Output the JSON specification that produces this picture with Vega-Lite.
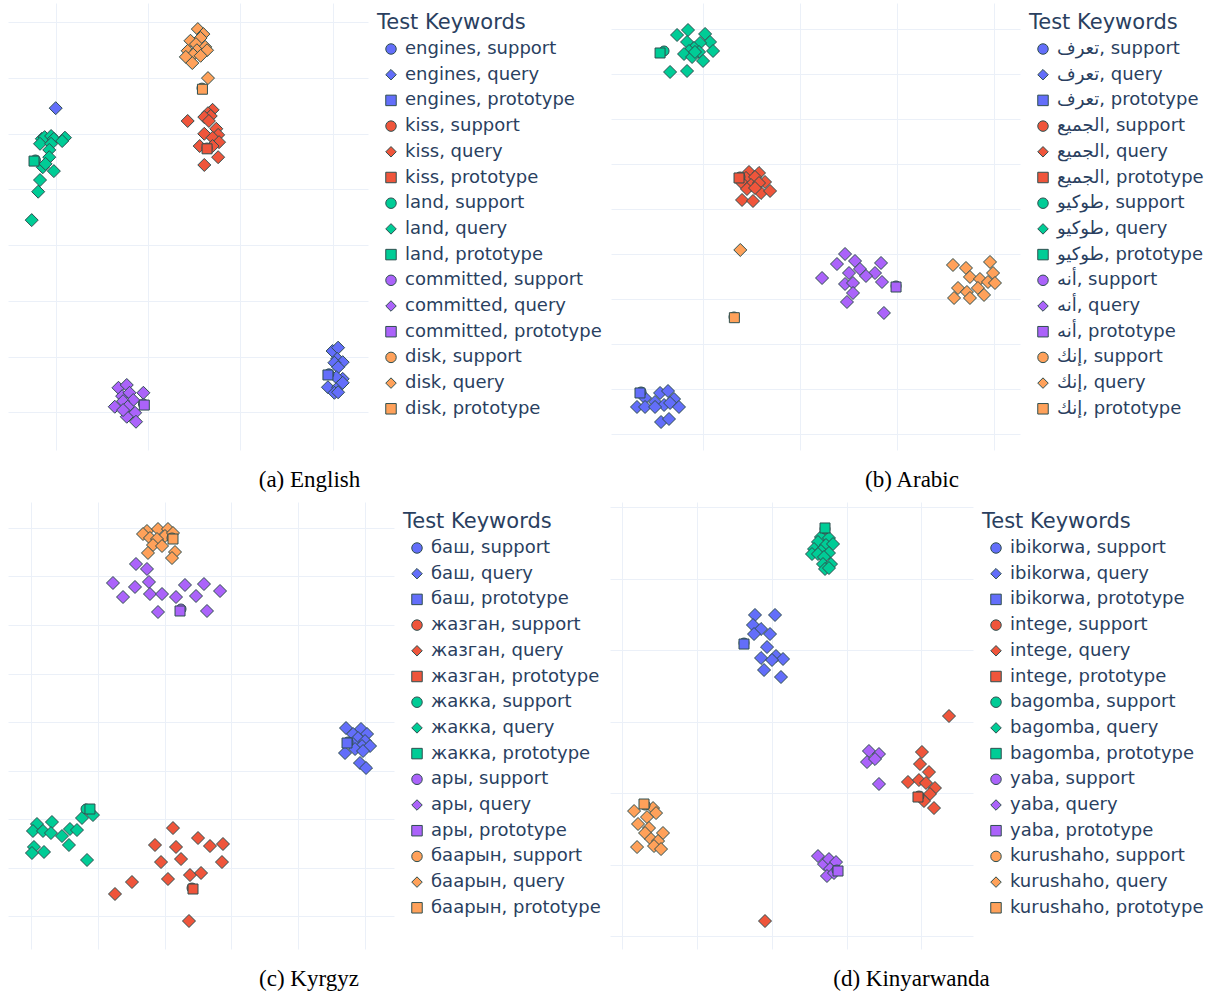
{
  "$schema": "https://vega.github.io/schema/vega-lite/v6.json",
  "background": "white",
  "padding": {"left": 8, "top": 3, "right": 0, "bottom": 0},
  "config": {
    "view": {"stroke": null},
    "axis": {"domain": false, "ticks": false, "labels": false, "grid": true, "gridColor": "#EBF0F8", "gridWidth": 1},
    "legend": {"titleFont": "DejaVu Sans", "titleFontSize": 21, "titleFontWeight": "normal", "titleColor": "#2a3f5f", "labelFont": "DejaVu Sans", "labelFontSize": 18, "labelColor": "#2a3f5f", "labelLimit": 400, "symbolSize": 110, "symbolStrokeColor": "#2F4F4F", "symbolStrokeWidth": 1, "rowPadding": 7.7, "padding": 9, "offset": 0, "symbolOffset": 5, "labelOffset": 5, "titlePadding": 7},
    "title": {"font": "Liberation Serif", "fontSize": 23, "fontWeight": "normal", "color": "black"}
  },
  "datasets": {
    "a": [
      {"l": "engines, support", "t": "s", "x": 29.6, "y": 6.9},
      {"l": "engines, query", "t": "q", "x": 30.0, "y": 11.0},
      {"l": "engines, query", "t": "q", "x": 30.6, "y": 11.6},
      {"l": "engines, query", "t": "q", "x": 30.5, "y": 9.6},
      {"l": "engines, query", "t": "q", "x": 31.1, "y": 9.0},
      {"l": "engines, query", "t": "q", "x": 30.2, "y": 8.9},
      {"l": "engines, query", "t": "q", "x": 30.6, "y": 8.1},
      {"l": "engines, query", "t": "q", "x": 31.1, "y": 6.0},
      {"l": "engines, query", "t": "q", "x": 30.4, "y": 6.3},
      {"l": "engines, query", "t": "q", "x": 29.5, "y": 4.5},
      {"l": "engines, query", "t": "q", "x": 30.6, "y": 4.5},
      {"l": "engines, query", "t": "q", "x": 31.1, "y": 5.3},
      {"l": "engines, query", "t": "q", "x": 30.2, "y": 3.5},
      {"l": "engines, query", "t": "q", "x": 30.6, "y": 3.6},
      {"l": "engines, query", "t": "q", "x": 0.0, "y": 54.6},
      {"l": "engines, prototype", "t": "p", "x": 29.5, "y": 6.7},
      {"l": "kiss, support", "t": "s", "x": 16.4, "y": 47.45},
      {"l": "kiss, query", "t": "q", "x": 17.0, "y": 54.3},
      {"l": "kiss, query", "t": "q", "x": 16.5, "y": 53.7},
      {"l": "kiss, query", "t": "q", "x": 16.8, "y": 53.2},
      {"l": "kiss, query", "t": "q", "x": 16.1, "y": 53.0},
      {"l": "kiss, query", "t": "q", "x": 16.6, "y": 52.3},
      {"l": "kiss, query", "t": "q", "x": 14.3, "y": 52.3},
      {"l": "kiss, query", "t": "q", "x": 17.4, "y": 50.9},
      {"l": "kiss, query", "t": "q", "x": 16.1, "y": 50.0},
      {"l": "kiss, query", "t": "q", "x": 17.6, "y": 49.8},
      {"l": "kiss, query", "t": "q", "x": 17.0, "y": 49.3},
      {"l": "kiss, query", "t": "q", "x": 15.6, "y": 47.8},
      {"l": "kiss, query", "t": "q", "x": 17.7, "y": 48.5},
      {"l": "kiss, query", "t": "q", "x": 17.0, "y": 47.8},
      {"l": "kiss, query", "t": "q", "x": 17.6, "y": 45.8},
      {"l": "kiss, query", "t": "q", "x": 16.1, "y": 44.4},
      {"l": "kiss, prototype", "t": "p", "x": 16.4, "y": 47.3},
      {"l": "land, support", "t": "s", "x": -2.2, "y": 45.3},
      {"l": "land, query", "t": "q", "x": -1.5, "y": 49.1},
      {"l": "land, query", "t": "q", "x": -1.2, "y": 49.4},
      {"l": "land, query", "t": "q", "x": -0.5, "y": 49.6},
      {"l": "land, query", "t": "q", "x": -0.2, "y": 49.1},
      {"l": "land, query", "t": "q", "x": 1.0, "y": 49.3},
      {"l": "land, query", "t": "q", "x": 0.7, "y": 48.7},
      {"l": "land, query", "t": "q", "x": -1.7, "y": 48.2},
      {"l": "land, query", "t": "q", "x": -0.5, "y": 48.2},
      {"l": "land, query", "t": "q", "x": -0.7, "y": 47.1},
      {"l": "land, query", "t": "q", "x": -0.7, "y": 45.8},
      {"l": "land, query", "t": "q", "x": -1.4, "y": 44.0},
      {"l": "land, query", "t": "q", "x": -1.1, "y": 44.6},
      {"l": "land, query", "t": "q", "x": -0.2, "y": 43.3},
      {"l": "land, query", "t": "q", "x": -1.7, "y": 41.7},
      {"l": "land, query", "t": "q", "x": -1.9, "y": 39.6},
      {"l": "land, query", "t": "q", "x": -2.6, "y": 34.5},
      {"l": "land, prototype", "t": "p", "x": -2.35, "y": 45.1},
      {"l": "committed, support", "t": "s", "x": 9.5, "y": 1.5},
      {"l": "committed, query", "t": "q", "x": 6.8, "y": 4.4},
      {"l": "committed, query", "t": "q", "x": 7.7, "y": 4.9},
      {"l": "committed, query", "t": "q", "x": 7.2, "y": 2.9},
      {"l": "committed, query", "t": "q", "x": 8.0, "y": 3.5},
      {"l": "committed, query", "t": "q", "x": 9.5, "y": 3.5},
      {"l": "committed, query", "t": "q", "x": 8.4, "y": 2.2},
      {"l": "committed, query", "t": "q", "x": 7.3, "y": 2.0},
      {"l": "committed, query", "t": "q", "x": 6.4, "y": 1.0},
      {"l": "committed, query", "t": "q", "x": 7.8, "y": 1.0},
      {"l": "committed, query", "t": "q", "x": 8.6, "y": -0.1},
      {"l": "committed, query", "t": "q", "x": 7.7, "y": -0.8},
      {"l": "committed, query", "t": "q", "x": 8.7, "y": -1.7},
      {"l": "committed, query", "t": "q", "x": 7.3, "y": 0.4},
      {"l": "committed, prototype", "t": "p", "x": 9.6, "y": 1.3},
      {"l": "disk, support", "t": "s", "x": 15.85, "y": 58.2},
      {"l": "disk, query", "t": "q", "x": 15.4, "y": 68.8},
      {"l": "disk, query", "t": "q", "x": 16.0, "y": 67.9},
      {"l": "disk, query", "t": "q", "x": 15.7, "y": 67.2},
      {"l": "disk, query", "t": "q", "x": 14.6, "y": 66.7},
      {"l": "disk, query", "t": "q", "x": 15.2, "y": 66.1},
      {"l": "disk, query", "t": "q", "x": 16.2, "y": 65.6},
      {"l": "disk, query", "t": "q", "x": 14.3, "y": 64.9},
      {"l": "disk, query", "t": "q", "x": 15.3, "y": 65.0},
      {"l": "disk, query", "t": "q", "x": 16.4, "y": 65.0},
      {"l": "disk, query", "t": "q", "x": 14.9, "y": 64.2},
      {"l": "disk, query", "t": "q", "x": 15.7, "y": 64.0},
      {"l": "disk, query", "t": "q", "x": 14.1, "y": 63.8},
      {"l": "disk, query", "t": "q", "x": 14.8, "y": 62.7},
      {"l": "disk, query", "t": "q", "x": 16.5, "y": 60.0},
      {"l": "disk, prototype", "t": "p", "x": 15.9, "y": 58.0}
    ],
    "b": [
      {"l": "تعرف, support", "t": "s", "x": -6.42, "y": 9.4},
      {"l": "تعرف, query", "t": "q", "x": -4.46, "y": 9.18},
      {"l": "تعرف, query", "t": "q", "x": -3.64, "y": 9.62},
      {"l": "تعرف, query", "t": "q", "x": -6.01, "y": 8.07},
      {"l": "تعرف, query", "t": "q", "x": -3.02, "y": 7.84},
      {"l": "تعرف, query", "t": "q", "x": -4.98, "y": 7.18},
      {"l": "تعرف, query", "t": "q", "x": -6.84, "y": 6.07},
      {"l": "تعرف, query", "t": "q", "x": -6.01, "y": 6.07},
      {"l": "تعرف, query", "t": "q", "x": -4.05, "y": 6.51},
      {"l": "تعرف, query", "t": "q", "x": -3.43, "y": 6.96},
      {"l": "تعرف, query", "t": "q", "x": -2.51, "y": 6.07},
      {"l": "تعرف, query", "t": "q", "x": -4.98, "y": 6.07},
      {"l": "تعرف, query", "t": "q", "x": -4.36, "y": 2.73},
      {"l": "تعرف, query", "t": "q", "x": -3.54, "y": 3.4},
      {"l": "تعرف, prototype", "t": "p", "x": -6.53, "y": 9.18},
      {"l": "الجميع, support", "t": "s", "x": 3.78, "y": 57.18},
      {"l": "الجميع, query", "t": "q", "x": 4.71, "y": 58.29},
      {"l": "الجميع, query", "t": "q", "x": 5.74, "y": 58.07},
      {"l": "الجميع, query", "t": "q", "x": 4.4, "y": 56.96},
      {"l": "الجميع, query", "t": "q", "x": 5.33, "y": 57.18},
      {"l": "الجميع, query", "t": "q", "x": 6.36, "y": 56.07},
      {"l": "الجميع, query", "t": "q", "x": 3.99, "y": 55.84},
      {"l": "الجميع, query", "t": "q", "x": 4.92, "y": 55.4},
      {"l": "الجميع, query", "t": "q", "x": 5.74, "y": 55.84},
      {"l": "الجميع, query", "t": "q", "x": 4.5, "y": 54.51},
      {"l": "الجميع, query", "t": "q", "x": 5.95, "y": 53.62},
      {"l": "الجميع, query", "t": "q", "x": 6.88, "y": 54.07},
      {"l": "الجميع, query", "t": "q", "x": 3.99, "y": 52.07},
      {"l": "الجميع, query", "t": "q", "x": 5.12, "y": 51.84},
      {"l": "الجميع, query", "t": "q", "x": 5.33, "y": 54.73},
      {"l": "الجميع, prototype", "t": "p", "x": 3.68, "y": 56.96},
      {"l": "طوكيو, support", "t": "s", "x": -4.05, "y": 85.18},
      {"l": "طوكيو, query", "t": "q", "x": -1.58, "y": 89.84},
      {"l": "طوكيو, query", "t": "q", "x": -2.71, "y": 88.73},
      {"l": "طوكيو, query", "t": "q", "x": 0.18, "y": 88.96},
      {"l": "طوكيو, query", "t": "q", "x": -1.68, "y": 87.18},
      {"l": "طوكيو, query", "t": "q", "x": 0.69, "y": 87.18},
      {"l": "طوكيو, query", "t": "q", "x": -0.34, "y": 86.96},
      {"l": "طوكيو, query", "t": "q", "x": -0.96, "y": 85.84},
      {"l": "طوكيو, query", "t": "q", "x": 1.0, "y": 85.18},
      {"l": "طوكيو, query", "t": "q", "x": -1.47, "y": 85.18},
      {"l": "طوكيو, query", "t": "q", "x": -0.44, "y": 84.96},
      {"l": "طوكيو, query", "t": "q", "x": -1.99, "y": 84.51},
      {"l": "طوكيو, query", "t": "q", "x": -1.16, "y": 83.84},
      {"l": "طوكيو, query", "t": "q", "x": -0.03, "y": 82.96},
      {"l": "طوكيو, query", "t": "q", "x": -3.43, "y": 80.51},
      {"l": "طوكيو, query", "t": "q", "x": -1.68, "y": 80.73},
      {"l": "طوكيو, query", "t": "q", "x": -0.86, "y": 84.96},
      {"l": "طوكيو, prototype", "t": "p", "x": -4.46, "y": 84.73},
      {"l": "أنه, support", "t": "s", "x": 19.87, "y": 32.96},
      {"l": "أنه, query", "t": "q", "x": 14.61, "y": 40.07},
      {"l": "أنه, query", "t": "q", "x": 15.64, "y": 38.51},
      {"l": "أنه, query", "t": "q", "x": 13.78, "y": 37.84},
      {"l": "أنه, query", "t": "q", "x": 18.32, "y": 38.07},
      {"l": "أنه, query", "t": "q", "x": 15.02, "y": 35.84},
      {"l": "أنه, query", "t": "q", "x": 16.15, "y": 36.73},
      {"l": "أنه, query", "t": "q", "x": 17.7, "y": 35.84},
      {"l": "أنه, query", "t": "q", "x": 16.77, "y": 35.18},
      {"l": "أنه, query", "t": "q", "x": 12.24, "y": 34.73},
      {"l": "أنه, query", "t": "q", "x": 18.42, "y": 33.84},
      {"l": "أنه, query", "t": "q", "x": 14.61, "y": 33.4},
      {"l": "أنه, query", "t": "q", "x": 15.43, "y": 33.62},
      {"l": "أنه, query", "t": "q", "x": 15.43, "y": 31.4},
      {"l": "أنه, query", "t": "q", "x": 14.81, "y": 29.4},
      {"l": "أنه, query", "t": "q", "x": 18.62, "y": 26.96},
      {"l": "أنه, prototype", "t": "p", "x": 19.87, "y": 32.73},
      {"l": "إنك, support", "t": "s", "x": 3.16, "y": 26.07},
      {"l": "إنك, query", "t": "q", "x": 3.81, "y": 40.96},
      {"l": "إنك, query", "t": "q", "x": 25.74, "y": 37.62},
      {"l": "إنك, query", "t": "q", "x": 27.08, "y": 36.96},
      {"l": "إنك, query", "t": "q", "x": 29.56, "y": 38.29},
      {"l": "إنك, query", "t": "q", "x": 27.49, "y": 34.96},
      {"l": "إنك, query", "t": "q", "x": 28.52, "y": 34.51},
      {"l": "إنك, query", "t": "q", "x": 29.87, "y": 35.84},
      {"l": "إنك, query", "t": "q", "x": 29.35, "y": 33.84},
      {"l": "إنك, query", "t": "q", "x": 30.07, "y": 33.62},
      {"l": "إنك, query", "t": "q", "x": 26.26, "y": 32.51},
      {"l": "إنك, query", "t": "q", "x": 27.18, "y": 31.62},
      {"l": "إنك, query", "t": "q", "x": 28.31, "y": 32.51},
      {"l": "إنك, query", "t": "q", "x": 28.94, "y": 30.96},
      {"l": "إنك, query", "t": "q", "x": 25.85, "y": 30.29},
      {"l": "إنك, query", "t": "q", "x": 27.49, "y": 30.29},
      {"l": "إنك, prototype", "t": "p", "x": 3.2, "y": 25.91}
    ],
    "c": [
      {"l": "баш, support", "t": "s", "x": 47.43, "y": 35.88},
      {"l": "баш, query", "t": "q", "x": 47.13, "y": 38.76},
      {"l": "баш, query", "t": "q", "x": 49.37, "y": 38.56},
      {"l": "баш, query", "t": "q", "x": 48.18, "y": 37.53},
      {"l": "баш, query", "t": "q", "x": 50.27, "y": 37.53},
      {"l": "баш, query", "t": "q", "x": 48.92, "y": 36.7},
      {"l": "баш, query", "t": "q", "x": 49.97, "y": 36.08},
      {"l": "баш, query", "t": "q", "x": 48.18, "y": 35.46},
      {"l": "баш, query", "t": "q", "x": 49.52, "y": 35.05},
      {"l": "баш, query", "t": "q", "x": 50.72, "y": 35.05},
      {"l": "баш, query", "t": "q", "x": 46.98, "y": 33.61},
      {"l": "баш, query", "t": "q", "x": 48.48, "y": 34.43},
      {"l": "баш, query", "t": "q", "x": 49.67, "y": 34.02},
      {"l": "баш, query", "t": "q", "x": 49.22, "y": 31.55},
      {"l": "баш, query", "t": "q", "x": 50.12, "y": 30.52},
      {"l": "баш, prototype", "t": "p", "x": 47.28, "y": 35.67},
      {"l": "жазган, support", "t": "s", "x": 24.11, "y": 5.77},
      {"l": "жазган, query", "t": "q", "x": 21.27, "y": 18.14},
      {"l": "жазган, query", "t": "q", "x": 25.01, "y": 16.08},
      {"l": "жазган, query", "t": "q", "x": 18.58, "y": 14.64},
      {"l": "жазган, query", "t": "q", "x": 21.72, "y": 14.23},
      {"l": "жазган, query", "t": "q", "x": 26.8, "y": 14.43},
      {"l": "жазган, query", "t": "q", "x": 28.74, "y": 14.85},
      {"l": "жазган, query", "t": "q", "x": 22.47, "y": 11.75},
      {"l": "жазган, query", "t": "q", "x": 19.48, "y": 11.13},
      {"l": "жазган, query", "t": "q", "x": 28.59, "y": 11.13},
      {"l": "жазган, query", "t": "q", "x": 20.52, "y": 7.63},
      {"l": "жазган, query", "t": "q", "x": 23.81, "y": 8.45},
      {"l": "жазган, query", "t": "q", "x": 25.46, "y": 8.87},
      {"l": "жазган, query", "t": "q", "x": 15.14, "y": 7.01},
      {"l": "жазган, query", "t": "q", "x": 12.6, "y": 4.54},
      {"l": "жазган, query", "t": "q", "x": 23.66, "y": -1.03},
      {"l": "жазган, prototype", "t": "p", "x": 24.26, "y": 5.57},
      {"l": "жакка, support", "t": "s", "x": 8.27, "y": 22.06},
      {"l": "жакка, query", "t": "q", "x": 0.94, "y": 18.97},
      {"l": "жакка, query", "t": "q", "x": 3.18, "y": 19.38},
      {"l": "жакка, query", "t": "q", "x": 0.34, "y": 17.53},
      {"l": "жакка, query", "t": "q", "x": 1.84, "y": 17.53},
      {"l": "жакка, query", "t": "q", "x": 3.03, "y": 17.11},
      {"l": "жакка, query", "t": "q", "x": 5.87, "y": 17.94},
      {"l": "жакка, query", "t": "q", "x": 6.92, "y": 17.73},
      {"l": "жакка, query", "t": "q", "x": 4.68, "y": 16.49},
      {"l": "жакка, query", "t": "q", "x": 7.67, "y": 20.21},
      {"l": "жакка, query", "t": "q", "x": 9.31, "y": 20.82},
      {"l": "жакка, query", "t": "q", "x": 0.49, "y": 14.23},
      {"l": "жакка, query", "t": "q", "x": 1.99, "y": 13.2},
      {"l": "жакка, query", "t": "q", "x": 0.19, "y": 12.99},
      {"l": "жакка, query", "t": "q", "x": 5.72, "y": 14.64},
      {"l": "жакка, query", "t": "q", "x": 8.42, "y": 11.55},
      {"l": "жакка, prototype", "t": "p", "x": 8.86, "y": 22.06},
      {"l": "ары, support", "t": "s", "x": 22.47, "y": 63.3},
      {"l": "ары, query", "t": "q", "x": 15.74, "y": 72.58},
      {"l": "ары, query", "t": "q", "x": 17.38, "y": 71.55},
      {"l": "ары, query", "t": "q", "x": 12.3, "y": 68.66},
      {"l": "ары, query", "t": "q", "x": 15.59, "y": 67.84},
      {"l": "ары, query", "t": "q", "x": 17.68, "y": 68.87},
      {"l": "ары, query", "t": "q", "x": 23.06, "y": 68.25},
      {"l": "ары, query", "t": "q", "x": 25.9, "y": 68.45},
      {"l": "ары, query", "t": "q", "x": 28.3, "y": 67.01},
      {"l": "ары, query", "t": "q", "x": 13.8, "y": 65.77},
      {"l": "ары, query", "t": "q", "x": 17.83, "y": 66.39},
      {"l": "ары, query", "t": "q", "x": 19.63, "y": 66.39},
      {"l": "ары, query", "t": "q", "x": 21.72, "y": 65.77},
      {"l": "ары, query", "t": "q", "x": 24.71, "y": 65.98},
      {"l": "ары, query", "t": "q", "x": 19.03, "y": 62.68},
      {"l": "ары, query", "t": "q", "x": 26.35, "y": 62.89},
      {"l": "ары, prototype", "t": "p", "x": 22.32, "y": 62.89},
      {"l": "баарын, support", "t": "s", "x": 21.12, "y": 77.94},
      {"l": "баарын, query", "t": "q", "x": 17.38, "y": 79.38},
      {"l": "баарын, query", "t": "q", "x": 19.03, "y": 79.79},
      {"l": "баарын, query", "t": "q", "x": 20.52, "y": 79.79},
      {"l": "баарын, query", "t": "q", "x": 16.79, "y": 78.76},
      {"l": "баарын, query", "t": "q", "x": 17.83, "y": 77.94},
      {"l": "баарын, query", "t": "q", "x": 20.07, "y": 78.35},
      {"l": "баарын, query", "t": "q", "x": 21.27, "y": 78.97},
      {"l": "баарын, query", "t": "q", "x": 18.88, "y": 77.73},
      {"l": "баарын, query", "t": "q", "x": 18.28, "y": 76.49},
      {"l": "баарын, query", "t": "q", "x": 19.63, "y": 76.29},
      {"l": "баарын, query", "t": "q", "x": 21.57, "y": 75.05},
      {"l": "баарын, query", "t": "q", "x": 21.12, "y": 73.81},
      {"l": "баарын, query", "t": "q", "x": 17.53, "y": 74.85},
      {"l": "баарын, prototype", "t": "p", "x": 21.27, "y": 77.73}
    ],
    "d": [
      {"l": "ibikorwa, support", "t": "s", "x": 16.28, "y": 40.99},
      {"l": "ibikorwa, query", "t": "q", "x": 17.75, "y": 44.91},
      {"l": "ibikorwa, query", "t": "q", "x": 20.43, "y": 44.91},
      {"l": "ibikorwa, query", "t": "q", "x": 17.48, "y": 43.51},
      {"l": "ibikorwa, query", "t": "q", "x": 18.56, "y": 42.95},
      {"l": "ibikorwa, query", "t": "q", "x": 17.62, "y": 42.25},
      {"l": "ibikorwa, query", "t": "q", "x": 19.76, "y": 42.25},
      {"l": "ibikorwa, query", "t": "q", "x": 19.36, "y": 40.43},
      {"l": "ibikorwa, query", "t": "q", "x": 18.56, "y": 38.9},
      {"l": "ibikorwa, query", "t": "q", "x": 20.56, "y": 39.18},
      {"l": "ibikorwa, query", "t": "q", "x": 21.5, "y": 38.76},
      {"l": "ibikorwa, query", "t": "q", "x": 20.03, "y": 38.62},
      {"l": "ibikorwa, query", "t": "q", "x": 18.96, "y": 37.22},
      {"l": "ibikorwa, query", "t": "q", "x": 21.23, "y": 36.24},
      {"l": "ibikorwa, prototype", "t": "p", "x": 16.28, "y": 40.85},
      {"l": "intege, support", "t": "s", "x": 39.69, "y": 19.61},
      {"l": "intege, query", "t": "q", "x": 43.71, "y": 30.79},
      {"l": "intege, query", "t": "q", "x": 40.09, "y": 25.76},
      {"l": "intege, query", "t": "q", "x": 39.83, "y": 24.08},
      {"l": "intege, query", "t": "q", "x": 41.03, "y": 22.96},
      {"l": "intege, query", "t": "q", "x": 38.22, "y": 21.57},
      {"l": "intege, query", "t": "q", "x": 39.69, "y": 21.84},
      {"l": "intege, query", "t": "q", "x": 40.63, "y": 21.43},
      {"l": "intege, query", "t": "q", "x": 41.83, "y": 20.73},
      {"l": "intege, query", "t": "q", "x": 41.16, "y": 19.89},
      {"l": "intege, query", "t": "q", "x": 40.36, "y": 18.91},
      {"l": "intege, query", "t": "q", "x": 41.7, "y": 17.93},
      {"l": "intege, query", "t": "q", "x": 19.09, "y": 2.14},
      {"l": "intege, prototype", "t": "p", "x": 39.56, "y": 19.47},
      {"l": "bagomba, support", "t": "s", "x": 27.12, "y": 56.93},
      {"l": "bagomba, query", "t": "q", "x": 26.58, "y": 55.81},
      {"l": "bagomba, query", "t": "q", "x": 27.65, "y": 55.67},
      {"l": "bagomba, query", "t": "q", "x": 26.18, "y": 55.11},
      {"l": "bagomba, query", "t": "q", "x": 27.25, "y": 54.69},
      {"l": "bagomba, query", "t": "q", "x": 28.19, "y": 54.83},
      {"l": "bagomba, query", "t": "q", "x": 25.65, "y": 54.13},
      {"l": "bagomba, query", "t": "q", "x": 26.58, "y": 53.85},
      {"l": "bagomba, query", "t": "q", "x": 27.65, "y": 53.57},
      {"l": "bagomba, query", "t": "q", "x": 25.38, "y": 53.43},
      {"l": "bagomba, query", "t": "q", "x": 26.18, "y": 53.43},
      {"l": "bagomba, query", "t": "q", "x": 26.98, "y": 53.01},
      {"l": "bagomba, query", "t": "q", "x": 26.85, "y": 52.03},
      {"l": "bagomba, query", "t": "q", "x": 27.92, "y": 52.03},
      {"l": "bagomba, query", "t": "q", "x": 27.12, "y": 51.34},
      {"l": "bagomba, query", "t": "q", "x": 27.65, "y": 51.47},
      {"l": "bagomba, prototype", "t": "p", "x": 27.12, "y": 57.07},
      {"l": "yaba, support", "t": "s", "x": 28.72, "y": 9.27},
      {"l": "yaba, query", "t": "q", "x": 33.0, "y": 25.9},
      {"l": "yaba, query", "t": "q", "x": 34.34, "y": 25.48},
      {"l": "yaba, query", "t": "q", "x": 32.74, "y": 24.36},
      {"l": "yaba, query", "t": "q", "x": 33.81, "y": 24.78},
      {"l": "yaba, query", "t": "q", "x": 34.34, "y": 21.29},
      {"l": "yaba, query", "t": "q", "x": 26.18, "y": 11.22},
      {"l": "yaba, query", "t": "q", "x": 26.98, "y": 10.1},
      {"l": "yaba, query", "t": "q", "x": 27.65, "y": 10.8},
      {"l": "yaba, query", "t": "q", "x": 28.59, "y": 10.38},
      {"l": "yaba, query", "t": "q", "x": 27.79, "y": 9.41},
      {"l": "yaba, query", "t": "q", "x": 27.38, "y": 8.43},
      {"l": "yaba, query", "t": "q", "x": 28.32, "y": 8.85},
      {"l": "yaba, prototype", "t": "p", "x": 28.86, "y": 9.13},
      {"l": "kurushaho, support", "t": "s", "x": 3.04, "y": 18.35},
      {"l": "kurushaho, query", "t": "q", "x": 1.57, "y": 17.51},
      {"l": "kurushaho, query", "t": "q", "x": 4.11, "y": 17.93},
      {"l": "kurushaho, query", "t": "q", "x": 4.51, "y": 17.23},
      {"l": "kurushaho, query", "t": "q", "x": 3.3, "y": 16.67},
      {"l": "kurushaho, query", "t": "q", "x": 2.1, "y": 15.7},
      {"l": "kurushaho, query", "t": "q", "x": 3.57, "y": 15.14},
      {"l": "kurushaho, query", "t": "q", "x": 3.04, "y": 14.44},
      {"l": "kurushaho, query", "t": "q", "x": 5.44, "y": 14.44},
      {"l": "kurushaho, query", "t": "q", "x": 3.84, "y": 13.6},
      {"l": "kurushaho, query", "t": "q", "x": 4.78, "y": 13.32},
      {"l": "kurushaho, query", "t": "q", "x": 1.97, "y": 12.48},
      {"l": "kurushaho, query", "t": "q", "x": 4.24, "y": 12.62},
      {"l": "kurushaho, query", "t": "q", "x": 5.18, "y": 12.2},
      {"l": "kurushaho, prototype", "t": "p", "x": 2.9, "y": 18.49}
    ]
  },
  "spacing": 10,
  "resolve": {"scale": {"color": "independent", "shape": "independent", "x": "independent", "y": "independent"}, "legend": {"color": "independent", "shape": "independent"}},
  "vconcat": [
    {
      "spacing": 0,
      "resolve": {"scale": {"color": "independent", "shape": "independent", "x": "independent", "y": "independent"}, "legend": {"color": "independent", "shape": "independent"}},
      "hconcat": [
        {
          "width": 360, "height": 447,
          "data": {"name": "a"},
          "title": {"text": "(a) English", "orient": "bottom", "anchor": "middle", "frame": "bounds", "offset": 19},
          "encoding": {
            "x": {"field": "x", "type": "quantitative", "title": null, "scale": {"domain": [-5.17, 33.84], "nice": false, "zero": false}, "axis": {"values": [0, 10, 20, 30]}},
            "y": {"field": "y", "type": "quantitative", "title": null, "scale": {"domain": [-6.77, 73.48], "nice": false, "zero": false}, "axis": {"values": [0, 10, 20, 30, 40, 50, 60, 70]}},
            "color": {"field": "l", "type": "nominal", "title": "Test Keywords", "sort": null,
              "scale": {"domain": ["engines, support", "engines, query", "engines, prototype", "kiss, support", "kiss, query", "kiss, prototype", "land, support", "land, query", "land, prototype", "committed, support", "committed, query", "committed, prototype", "disk, support", "disk, query", "disk, prototype"],
                "range": ["#636EFA", "#636EFA", "#636EFA", "#EF553B", "#EF553B", "#EF553B", "#00CC96", "#00CC96", "#00CC96", "#AB63FA", "#AB63FA", "#AB63FA", "#FFA15A", "#FFA15A", "#FFA15A"]}},
            "shape": {"field": "l", "type": "nominal", "title": "Test Keywords", "sort": null,
              "scale": {"domain": ["engines, support", "engines, query", "engines, prototype", "kiss, support", "kiss, query", "kiss, prototype", "land, support", "land, query", "land, prototype", "committed, support", "committed, query", "committed, prototype", "disk, support", "disk, query", "disk, prototype"],
                "range": ["circle", "diamond", "square", "circle", "diamond", "square", "circle", "diamond", "square", "circle", "diamond", "square", "circle", "diamond", "square"]}}
          },
          "layer": [
            {"transform": [{"filter": "datum.t == 'q'"}], "mark": {"type": "point", "filled": true, "opacity": 1, "size": 169, "stroke": "#2F4F4F", "strokeWidth": 1}},
            {"transform": [{"filter": "datum.t != 'q'"}], "mark": {"type": "point", "filled": true, "opacity": 1, "size": 100, "stroke": "#2F4F4F", "strokeWidth": 1}}
          ]
        },
        {
          "width": 409, "height": 447,
          "data": {"name": "b"},
          "title": {"text": "(b) Arabic", "orient": "bottom", "anchor": "middle", "frame": "bounds", "offset": 19},
          "encoding": {
            "x": {"field": "x", "type": "quantitative", "title": null, "scale": {"domain": [-9.52, 32.65], "nice": false, "zero": false}, "axis": {"values": [0, 10, 20, 30]}},
            "y": {"field": "y", "type": "quantitative", "title": null, "scale": {"domain": [-3.49, 95.84], "nice": false, "zero": false}, "axis": {"values": [0, 10, 20, 30, 40, 50, 60, 70, 80, 90]}},
            "color": {"field": "l", "type": "nominal", "title": "Test Keywords", "sort": null,
              "scale": {"domain": ["تعرف, support", "تعرف, query", "تعرف, prototype", "الجميع, support", "الجميع, query", "الجميع, prototype", "طوكيو, support", "طوكيو, query", "طوكيو, prototype", "أنه, support", "أنه, query", "أنه, prototype", "إنك, support", "إنك, query", "إنك, prototype"],
                "range": ["#636EFA", "#636EFA", "#636EFA", "#EF553B", "#EF553B", "#EF553B", "#00CC96", "#00CC96", "#00CC96", "#AB63FA", "#AB63FA", "#AB63FA", "#FFA15A", "#FFA15A", "#FFA15A"]}},
            "shape": {"field": "l", "type": "nominal", "title": "Test Keywords", "sort": null,
              "scale": {"domain": ["تعرف, support", "تعرف, query", "تعرف, prototype", "الجميع, support", "الجميع, query", "الجميع, prototype", "طوكيو, support", "طوكيو, query", "طوكيو, prototype", "أنه, support", "أنه, query", "أنه, prototype", "إنك, support", "إنك, query", "إنك, prototype"],
                "range": ["circle", "diamond", "square", "circle", "diamond", "square", "circle", "diamond", "square", "circle", "diamond", "square", "circle", "diamond", "square"]}}
          },
          "layer": [
            {"transform": [{"filter": "datum.t == 'q'"}], "mark": {"type": "point", "filled": true, "opacity": 1, "size": 169, "stroke": "#2F4F4F", "strokeWidth": 1}},
            {"transform": [{"filter": "datum.t != 'q'"}], "mark": {"type": "point", "filled": true, "opacity": 1, "size": 100, "stroke": "#2F4F4F", "strokeWidth": 1}}
          ]
        }
      ]
    },
    {
      "spacing": 0,
      "resolve": {"scale": {"color": "independent", "shape": "independent", "x": "independent", "y": "independent"}, "legend": {"color": "independent", "shape": "independent"}},
      "hconcat": [
        {
          "width": 386, "height": 447,
          "data": {"name": "c"},
          "title": {"text": "(c) Kyrgyz", "orient": "bottom", "anchor": "middle", "frame": "bounds", "offset": 19},
          "encoding": {
            "x": {"field": "x", "type": "quantitative", "title": null, "scale": {"domain": [-3.39, 54.3], "nice": false, "zero": false}, "axis": {"values": [0, 10, 20, 30, 40, 50]}},
            "y": {"field": "y", "type": "quantitative", "title": null, "scale": {"domain": [-6.8, 85.36], "nice": false, "zero": false}, "axis": {"values": [0, 10, 20, 30, 40, 50, 60, 70, 80]}},
            "color": {"field": "l", "type": "nominal", "title": "Test Keywords", "sort": null,
              "scale": {"domain": ["баш, support", "баш, query", "баш, prototype", "жазган, support", "жазган, query", "жазган, prototype", "жакка, support", "жакка, query", "жакка, prototype", "ары, support", "ары, query", "ары, prototype", "баарын, support", "баарын, query", "баарын, prototype"],
                "range": ["#636EFA", "#636EFA", "#636EFA", "#EF553B", "#EF553B", "#EF553B", "#00CC96", "#00CC96", "#00CC96", "#AB63FA", "#AB63FA", "#AB63FA", "#FFA15A", "#FFA15A", "#FFA15A"]}},
            "shape": {"field": "l", "type": "nominal", "title": "Test Keywords", "sort": null,
              "scale": {"domain": ["баш, support", "баш, query", "баш, prototype", "жазган, support", "жазган, query", "жазган, prototype", "жакка, support", "жакка, query", "жакка, prototype", "ары, support", "ары, query", "ары, prototype", "баарын, support", "баарын, query", "баарын, prototype"],
                "range": ["circle", "diamond", "square", "circle", "diamond", "square", "circle", "diamond", "square", "circle", "diamond", "square", "circle", "diamond", "square"]}}
          },
          "layer": [
            {"transform": [{"filter": "datum.t == 'q'"}], "mark": {"type": "point", "filled": true, "opacity": 1, "size": 169, "stroke": "#2F4F4F", "strokeWidth": 1}},
            {"transform": [{"filter": "datum.t != 'q'"}], "mark": {"type": "point", "filled": true, "opacity": 1, "size": 100, "stroke": "#2F4F4F", "strokeWidth": 1}}
          ]
        },
        {
          "width": 363, "height": 447,
          "data": {"name": "d"},
          "title": {"text": "(d) Kinyarwanda", "orient": "bottom", "anchor": "middle", "frame": "bounds", "offset": 19},
          "encoding": {
            "x": {"field": "x", "type": "quantitative", "title": null, "scale": {"domain": [-1.65, 46.92], "nice": false, "zero": false}, "axis": {"values": [0, 10, 20, 30, 40]}},
            "y": {"field": "y", "type": "quantitative", "title": null, "scale": {"domain": [-1.77, 60.7], "nice": false, "zero": false}, "axis": {"values": [0, 10, 20, 30, 40, 50, 60]}},
            "color": {"field": "l", "type": "nominal", "title": "Test Keywords", "sort": null,
              "scale": {"domain": ["ibikorwa, support", "ibikorwa, query", "ibikorwa, prototype", "intege, support", "intege, query", "intege, prototype", "bagomba, support", "bagomba, query", "bagomba, prototype", "yaba, support", "yaba, query", "yaba, prototype", "kurushaho, support", "kurushaho, query", "kurushaho, prototype"],
                "range": ["#636EFA", "#636EFA", "#636EFA", "#EF553B", "#EF553B", "#EF553B", "#00CC96", "#00CC96", "#00CC96", "#AB63FA", "#AB63FA", "#AB63FA", "#FFA15A", "#FFA15A", "#FFA15A"]}},
            "shape": {"field": "l", "type": "nominal", "title": "Test Keywords", "sort": null,
              "scale": {"domain": ["ibikorwa, support", "ibikorwa, query", "ibikorwa, prototype", "intege, support", "intege, query", "intege, prototype", "bagomba, support", "bagomba, query", "bagomba, prototype", "yaba, support", "yaba, query", "yaba, prototype", "kurushaho, support", "kurushaho, query", "kurushaho, prototype"],
                "range": ["circle", "diamond", "square", "circle", "diamond", "square", "circle", "diamond", "square", "circle", "diamond", "square", "circle", "diamond", "square"]}}
          },
          "layer": [
            {"transform": [{"filter": "datum.t == 'q'"}], "mark": {"type": "point", "filled": true, "opacity": 1, "size": 169, "stroke": "#2F4F4F", "strokeWidth": 1}},
            {"transform": [{"filter": "datum.t != 'q'"}], "mark": {"type": "point", "filled": true, "opacity": 1, "size": 100, "stroke": "#2F4F4F", "strokeWidth": 1}}
          ]
        }
      ]
    }
  ]
}
